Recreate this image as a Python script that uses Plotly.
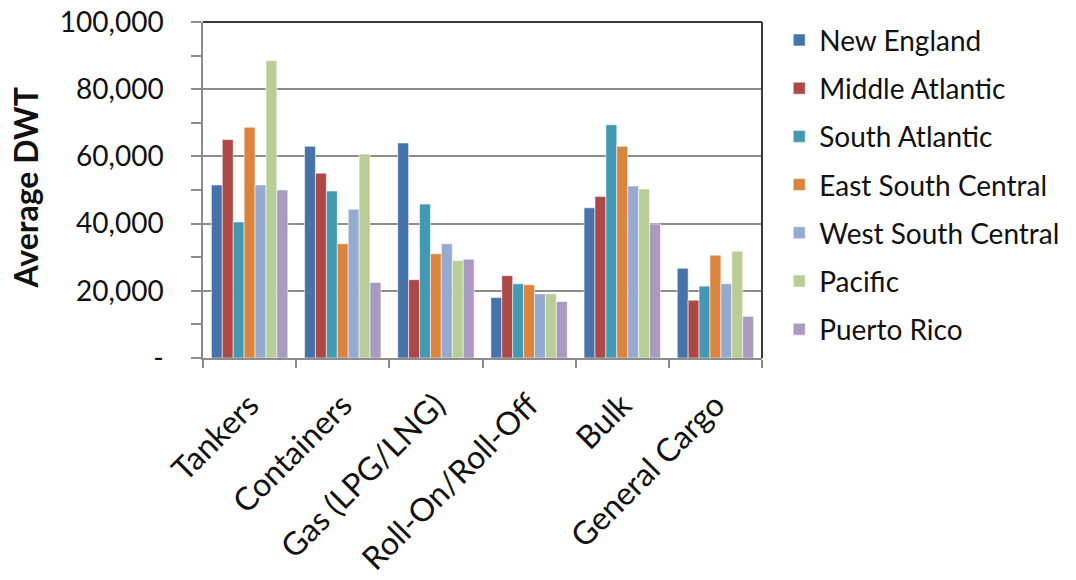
import plotly.graph_objects as go

categories = ["Tankers", "Containers", "Gas (LPG/LNG)", "Roll-On/Roll-Off", "Bulk", "General Cargo"]

regions = ["New England", "Middle Atlantic", "South Atlantic", "East South Central",
           "West South Central", "Pacific", "Puerto Rico"]

new_england = [51500, 63000, 64000, 18000, 44700, 26700]
middle_atlantic = [65000, 55000, 23300, 24500, 48100, 17200]
south_atlantic = [40500, 49700, 45800, 22100, 69400, 21400]
east_south_central = [68700, 34000, 31000, 21800, 63000, 30600]
west_south_central = [51500, 44300, 34000, 19100, 51200, 22100]
pacific = [88500, 60700, 29000, 19100, 50300, 31800]
puerto_rico = [50000, 22500, 29400, 16800, 39900, 12400]

series = [new_england, middle_atlantic, south_atlantic, east_south_central,
          west_south_central, pacific, puerto_rico]
colors = ["#4674AA", "#AC4846", "#4399B1", "#DB843E", "#94AACF", "#B9CE97", "#A99ABF"]

y_tick_vals = [0, 20000, 40000, 60000, 80000, 100000]
y_tick_text = ["-", "20,000", "40,000", "60,000", "80,000", "100,000"]

FONT = "Lato"
TEXT = "#111111"

fig = go.Figure()
for i, (name, vals, col) in enumerate(zip(regions, series, colors)):
    fig.add_trace(go.Bar(
        x=categories, y=vals, name=name,
        marker=dict(color=col, line=dict(color="rgba(255,255,255,0.55)", width=1)),
        legendgroup=f"g{i}",
    ))

fig.update_layout(
    width=1076, height=580,
    margin=dict(l=203, r=313, t=22, b=222),
    paper_bgcolor="white", plot_bgcolor="white",
    barmode="group", bargap=0.18, bargroupgap=0,
    font=dict(family=FONT, size=28, color=TEXT),
    showlegend=True,
    legend=dict(x=1.029, xanchor="left", y=1.02, yanchor="top",
                font=dict(family=FONT, size=28, color=TEXT),
                tracegroupgap=8.8, bgcolor="rgba(0,0,0,0)", maxheight=1.0),
    xaxis=dict(
        automargin=False,
        tickangle=-45, tickson="boundaries", ticks="outside", ticklen=8,
        tickcolor="#8c8c8c", tickwidth=1.5, ticklabelstandoff=14,
        showline=True, linecolor="#8c8c8c", linewidth=1.5,
        showgrid=False, tickfont=dict(family=FONT, size=32, color=TEXT),
    ),
    yaxis=dict(
        automargin=False,
        range=[0, 100000], tickvals=y_tick_vals, ticktext=y_tick_text,
        ticks="outside", ticklen=10, tickcolor="#8c8c8c", tickwidth=1.5,
        ticklabelstandoff=22,
        minor=dict(dtick=10000, ticks="outside", ticklen=10, tickcolor="#8c8c8c",
                   tickwidth=1.5, showgrid=False),
        showline=True, linecolor="#8c8c8c", linewidth=1.5,
        showgrid=True, gridcolor="#8c8c8c", gridwidth=1.5,
        zeroline=False, tickfont=dict(family=FONT, size=28, color=TEXT),
    ),
    shapes=[
        dict(type="line", xref="paper", yref="paper", x0=0, x1=1, y0=1, y1=1,
             line=dict(color="#3a3a3a", width=2)),
        dict(type="line", xref="paper", yref="paper", x0=1, x1=1, y0=0, y1=1,
             line=dict(color="#3a3a3a", width=2)),
    ],
    annotations=[
        dict(text="<b>Average DWT</b>", textangle=-90, xref="paper", yref="paper",
             x=-0.318, y=0.505, xanchor="center", yanchor="middle", showarrow=False,
             font=dict(family=FONT, size=32, color=TEXT)),
    ],
)

fig.write_html("out.html")
